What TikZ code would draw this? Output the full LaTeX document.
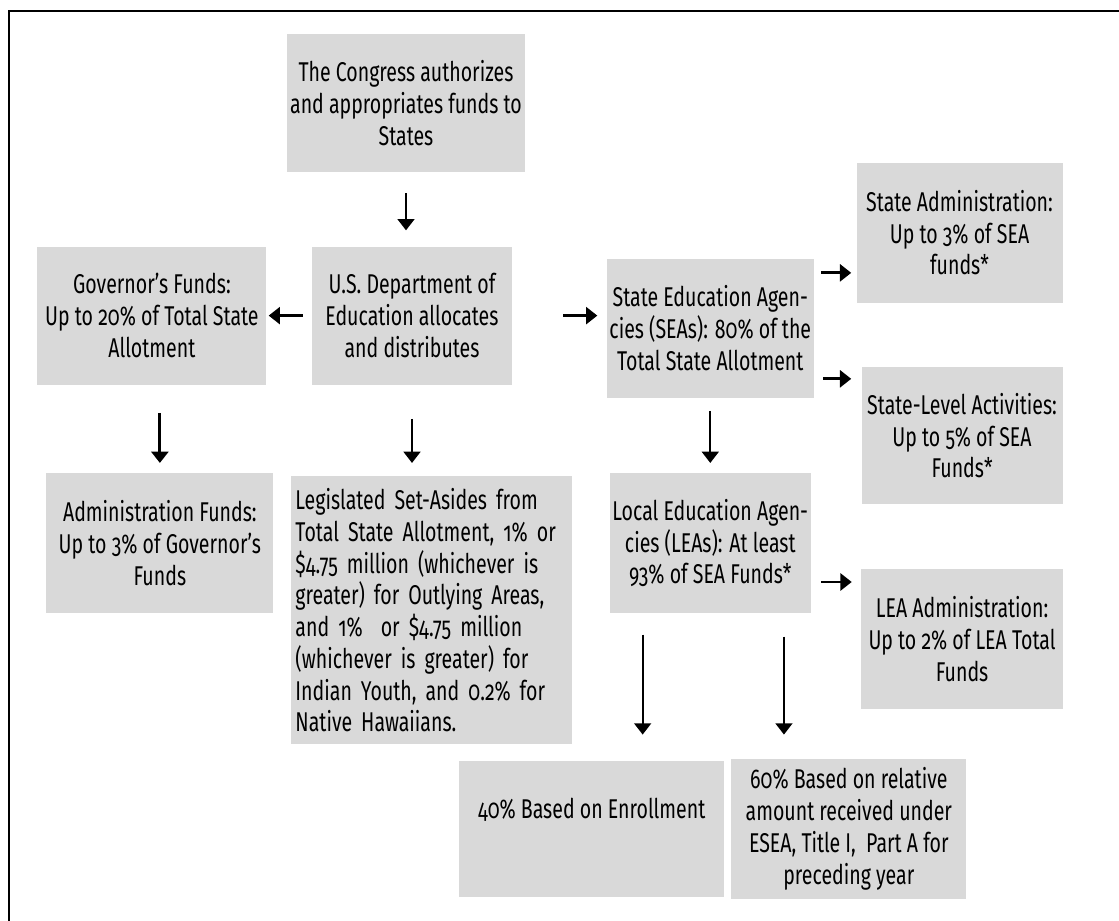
\documentclass[tikz,border=0pt]{standalone}
\usepackage{fontspec}
\setmainfont{Fira Sans}[Numbers=OldStyle, FakeStretch=0.72]
\usepackage{tikz}
\usepackage{xcolor}
\usetikzlibrary{arrows.meta, positioning, calc}
\definecolor{boxgray}{RGB}{217,217,217}

\begin{document}
\begin{tikzpicture}[
    x=0.025cm, y=-0.025cm,
    box/.style={
        rectangle, fill=boxgray, draw=none,
        minimum width=5.0cm, minimum height=3.5cm,
        inner sep=2pt, align=center,
        font=\fontsize{19.3}{22.6}\selectfont
    },
    arr/.style={-{Triangle[width=12pt, length=8pt]}, line width=1.4pt},
    boldarr/.style={arr, line width=2pt},
]

%% ---- PAGE AND FRAME ----
\useasboundingbox (0,0) rectangle (1119,921);
\draw[line width=2pt] (9,921) -- (9,11) -- (1119,11);

%% ---- FEDERAL ----
\node[box, minimum width=5.7cm, minimum height=3.45cm] (congress) at (406,103)
    {The Congress authorizes\\and appropriates funds to\\States};
\node[box, minimum height=3.45cm, below=1.85cm of congress, xshift=0.15cm] (usde)
    {U.S. Department of\\Education allocates\\and distributes};

%% ---- GOVERNOR ----
\node[box, minimum width=5.725cm, minimum height=3.45cm, left=1.125cm of usde] (gov)
    {Governor’s Funds:\\Up to 20\% of Total State\\Allotment};
\node[box, minimum width=5.675cm, below=2.2cm of gov, xshift=0.2cm] (admfunds)
    {Administration Funds:\\Up to 3\% of Governor’s\\Funds};

%% ---- SET-ASIDES ----
\node[box, text width=6.8cm, align=left, inner sep=0.1cm, minimum height=6.7cm,
      below=2.275cm of usde, xshift=0.4875cm] (setaside)
    {Legislated Set-Asides from\\Total State Allotment, 1\% or\\\$4.75 million (whichever is\\greater) for Outlying Areas,\\and 1\%~ or \$4.75 million\\(whichever is greater) for\\Indian Youth, and 0.2\% for\\Native Hawaiians.};

%% ---- STATE ----
\node[box, minimum height=3.475cm, right=2.35cm of usde, yshift=-0.3125cm] (sea)
    {State Education Agen-\\cies (SEAs): 80\% of the\\Total State Allotment};
\node[box, below=1.875cm of sea] (lea)
    {Local Education Agen-\\cies (LEAs): At least\\93\% of SEA Funds*};

\node[box, minimum width=5.15cm, right=1.05cm of sea, yshift=2.3875cm] (stadm)
    {State Administration:\\Up to 3\% of SEA\\funds*};
\node[box, minimum width=5.025cm, minimum height=3.425cm, below=1.6cm of stadm, xshift=0.0625cm] (stlvl)
    {State-Level Activities:\\Up to 5\% of SEA\\Funds*};
\node[box, minimum width=5.05cm, below=1.6cm of stlvl] (leaadm)
    {LEA Administration:\\Up to 2\% of LEA Total\\Funds};

%% ---- LOCAL SPLIT ----
\node[box, minimum width=6.625cm, minimum height=3.4cm, text depth=1.05cm,
      below=3.675cm of lea, xshift=-2.9625cm] (enroll)
    {40\% Based on Enrollment};
\node[box, minimum width=5.875cm, below=3.625cm of lea, xshift=3.4625cm] (preced)
    {60\% Based on relative\\amount received under\\ESEA, Title I,~ Part A for\\preceding year};

%% ---- ARROWS ----
\draw[arr, shorten <=0.525cm, shorten >=0.4cm] (congress.south) -- (congress.south |- usde.north);
\draw[boldarr, shorten <=0.225cm, shorten >=0.05cm] (usde.west) -- (gov.east);
\draw[boldarr, shorten <=1.275cm, shorten >=0.225cm] (usde.east) -- (usde.east -| sea.west);
\draw[boldarr, shorten <=0.7cm, shorten >=0.25cm] (admfunds.north |- gov.south) -- (admfunds.north);
\draw[arr, shorten <=0.85cm, shorten >=0.325cm] (usde.south) -- (usde.south |- setaside.north);
\draw[arr, shorten <=0.325cm, shorten >=0.25cm] (sea.south) -- (lea.north);
\draw[boldarr, shorten <=0.175cm, shorten >=0.125cm] (sea.28) -- (sea.28 -| stadm.west);
\draw[boldarr, shorten <=0.225cm, shorten >=0.25cm] (sea.-26) -- (sea.-26 -| stlvl.west);
\draw[boldarr, shorten <=0.25cm, shorten >=0.225cm] (lea.-21) -- (lea.-21 -| leaadm.west);
\draw[arr, shorten <=0.525cm, shorten >=0.65cm]
    ($(lea.south west)!0.165!(lea.south east)$) coordinate (lea1) -- (lea1 |- enroll.north);
\draw[arr, shorten <=0.575cm, shorten >=0.6cm]
    ($(lea.south west)!0.865!(lea.south east)$) coordinate (lea2) -- (lea2 |- preced.north);

\end{tikzpicture}
\end{document}
